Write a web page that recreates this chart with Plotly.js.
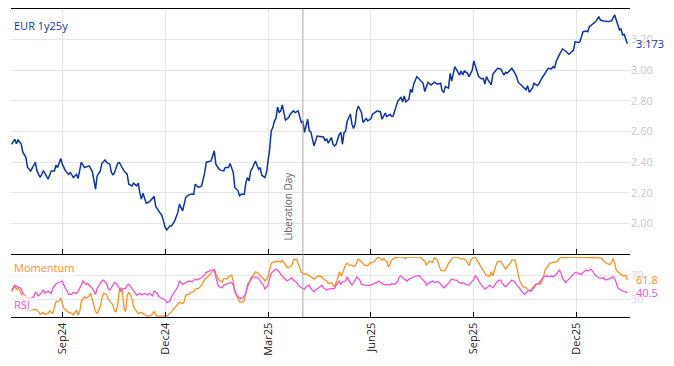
<!DOCTYPE html>
<html>
<head>
<meta charset="utf-8">
<script src="https://cdn.plot.ly/plotly-3.0.1.min.js"></script>
<style>html,body{margin:0;padding:0;background:#fff;}#chart{width:674px;height:366px;}</style>
</head>
<body>
<div id="chart"></div>
<script>
// ---- EUR 1y25y swap rate ----
const rateDates = [
"2024-07-18","2024-07-22","2024-07-23","2024-07-24","2024-07-26","2024-07-29","2024-07-31",
"2024-08-01","2024-08-05","2024-08-08","2024-08-09","2024-08-13","2024-08-15","2024-08-16","2024-08-20","2024-08-22","2024-08-26","2024-08-27","2024-08-28","2024-08-30",
"2024-09-02","2024-09-04","2024-09-06","2024-09-09","2024-09-11","2024-09-13","2024-09-16","2024-09-18","2024-09-20","2024-09-25","2024-09-27","2024-09-30",
"2024-10-01","2024-10-02","2024-10-04","2024-10-07","2024-10-09","2024-10-10","2024-10-14","2024-10-15","2024-10-16","2024-10-17","2024-10-21","2024-10-22","2024-10-24","2024-10-25","2024-10-29","2024-10-30",
"2024-11-01","2024-11-04","2024-11-06","2024-11-07","2024-11-08","2024-11-11","2024-11-12","2024-11-14","2024-11-18","2024-11-21","2024-11-22","2024-11-26","2024-11-28",
"2024-12-02","2024-12-03","2024-12-05","2024-12-06","2024-12-10","2024-12-12","2024-12-13","2024-12-17","2024-12-19","2024-12-20","2024-12-24","2024-12-26","2024-12-27","2024-12-31",
"2025-01-02","2025-01-03","2025-01-06","2025-01-07","2025-01-10","2025-01-13","2025-01-14","2025-01-15","2025-01-17","2025-01-20","2025-01-22","2025-01-23","2025-01-27","2025-01-28","2025-01-30","2025-01-31",
"2025-02-04","2025-02-05","2025-02-06","2025-02-10","2025-02-11","2025-02-12","2025-02-13","2025-02-14","2025-02-17","2025-02-19","2025-02-20","2025-02-21","2025-02-24","2025-02-25","2025-02-27","2025-02-28",
"2025-03-03","2025-03-04","2025-03-05","2025-03-06","2025-03-07","2025-03-10","2025-03-11","2025-03-12","2025-03-13","2025-03-14","2025-03-17","2025-03-18","2025-03-20","2025-03-21","2025-03-25","2025-03-26","2025-03-28","2025-03-31",
"2025-04-01","2025-04-02","2025-04-03","2025-04-07","2025-04-08","2025-04-09","2025-04-10","2025-04-11","2025-04-15","2025-04-17","2025-04-21","2025-04-22","2025-04-23","2025-04-24","2025-04-25","2025-04-28","2025-04-29","2025-04-30",
"2025-05-01","2025-05-05","2025-05-06","2025-05-07","2025-05-08","2025-05-09","2025-05-12","2025-05-14","2025-05-15","2025-05-16","2025-05-19","2025-05-20","2025-05-21","2025-05-23","2025-05-26","2025-05-28","2025-05-29",
"2025-06-02","2025-06-03","2025-06-05","2025-06-06","2025-06-10","2025-06-11","2025-06-13","2025-06-16","2025-06-18","2025-06-19","2025-06-20","2025-06-24","2025-06-25","2025-06-27","2025-06-30",
"2025-07-01","2025-07-02","2025-07-04","2025-07-07","2025-07-08","2025-07-09","2025-07-11","2025-07-15","2025-07-17","2025-07-18","2025-07-22","2025-07-24","2025-07-28","2025-07-30",
"2025-08-01","2025-08-04","2025-08-05","2025-08-06","2025-08-08","2025-08-11","2025-08-12","2025-08-14","2025-08-15","2025-08-19","2025-08-20","2025-08-21","2025-08-22","2025-08-26","2025-08-27","2025-08-29",
"2025-09-01","2025-09-03","2025-09-04","2025-09-08","2025-09-09","2025-09-10","2025-09-11","2025-09-12","2025-09-16","2025-09-17","2025-09-19","2025-09-22","2025-09-24","2025-09-26","2025-09-29","2025-09-30",
"2025-10-02","2025-10-03","2025-10-07","2025-10-08","2025-10-09","2025-10-13","2025-10-14","2025-10-16","2025-10-17","2025-10-20","2025-10-22","2025-10-23","2025-10-27","2025-10-28","2025-10-30",
"2025-11-03","2025-11-04","2025-11-05","2025-11-07","2025-11-10","2025-11-11","2025-11-12","2025-11-14","2025-11-17","2025-11-18","2025-11-20","2025-11-24","2025-11-25","2025-11-27","2025-11-28",
"2025-12-02","2025-12-03","2025-12-04","2025-12-05","2025-12-09","2025-12-10","2025-12-11","2025-12-15","2025-12-16","2025-12-17","2025-12-19","2025-12-22","2025-12-24","2025-12-26","2025-12-29","2025-12-31",
"2026-01-01","2026-01-02","2026-01-05","2026-01-06","2026-01-07","2026-01-08","2026-01-09","2026-01-12","2026-01-13","2026-01-14"
];
const rateValues = [
2.517,2.55,2.52,2.545,2.52,2.467,2.43,
2.367,2.343,2.398,2.343,2.30,2.343,2.328,2.289,2.343,2.343,2.38,2.365,2.424,
2.387,2.343,2.32,2.333,2.30,2.32,2.293,2.40,2.365,2.376,2.337,2.289,
2.224,2.31,2.343,2.393,2.415,2.398,2.387,2.333,2.315,2.333,2.393,2.398,2.365,2.343,2.32,2.256,
2.245,2.263,2.245,2.263,2.198,2.159,2.198,2.132,2.141,2.176,2.111,2.082,2.05,
1.974,1.958,1.984,1.984,2.017,2.072,2.126,2.082,2.17,2.18,2.191,2.191,2.256,2.235,
2.245,2.289,2.333,2.40,2.408,2.44,2.474,2.387,2.354,2.348,2.343,2.365,2.365,2.391,2.333,2.235,
2.213,2.18,2.191,2.191,2.267,2.30,2.278,2.343,2.359,2.408,2.376,2.354,2.365,2.315,2.30,2.333,
2.408,2.485,2.604,2.626,2.669,2.685,2.76,2.724,2.735,2.774,2.724,2.674,2.691,2.713,2.735,2.724,2.735,2.70,
2.659,2.669,2.594,2.68,2.604,2.598,2.55,2.506,2.571,2.567,2.565,2.539,2.554,2.524,2.539,2.561,2.517,2.506,
2.517,2.583,2.594,2.517,2.594,2.604,2.669,2.713,2.648,2.62,2.648,2.735,2.767,2.724,2.659,2.685,2.669,
2.685,2.713,2.724,2.735,2.728,2.68,2.72,2.698,2.713,2.70,2.70,2.778,2.80,2.822,2.793,
2.832,2.793,2.811,2.876,2.855,2.909,2.959,2.935,2.915,2.861,2.922,2.904,2.922,2.909,
2.915,2.865,2.856,2.894,2.883,2.98,2.93,3.024,3.002,2.969,2.995,2.969,2.995,2.98,2.959,3.002,
3.061,3.002,2.959,2.943,2.946,2.909,2.959,2.937,2.904,2.974,3.002,3.013,3.009,2.969,2.987,2.98,
3.002,3.013,2.98,2.959,2.922,2.904,2.894,2.872,2.90,2.856,2.883,2.915,2.90,2.909,2.948,
2.98,2.991,3.013,3.009,3.024,3.013,3.057,3.10,3.122,3.139,3.126,3.104,3.111,3.132,3.187,
3.181,3.187,3.22,3.252,3.256,3.252,3.285,3.30,3.307,3.318,3.35,3.328,3.322,3.318,3.318,3.322,
3.339,3.361,3.328,3.295,3.263,3.27,3.23,3.235,3.198,3.173
];

// ---- Momentum ----
const momDates = [
"2024-07-18","2024-07-22","2024-07-23","2024-07-24","2024-07-26","2024-07-30","2024-07-31",
"2024-08-02","2024-08-07","2024-08-08","2024-08-12","2024-08-13","2024-08-15","2024-08-16","2024-08-20","2024-08-21","2024-08-23","2024-08-26","2024-08-27","2024-08-29","2024-08-30",
"2024-09-02","2024-09-03","2024-09-05","2024-09-06","2024-09-10","2024-09-11","2024-09-13","2024-09-16","2024-09-17","2024-09-18","2024-09-20","2024-09-23","2024-09-25","2024-09-26","2024-09-27",
"2024-10-01","2024-10-02","2024-10-04","2024-10-07","2024-10-08","2024-10-10","2024-10-11","2024-10-14","2024-10-16","2024-10-17","2024-10-18","2024-10-21","2024-10-22","2024-10-23","2024-10-24","2024-10-25","2024-10-28","2024-10-29","2024-10-30",
"2024-11-01","2024-11-04","2024-11-06","2024-11-07","2024-11-11","2024-11-13","2024-11-14","2024-11-15","2024-11-19","2024-11-20","2024-11-21","2024-11-22","2024-11-25","2024-11-27",
"2024-12-02","2024-12-03","2024-12-05","2024-12-06","2024-12-10","2024-12-12","2024-12-13","2024-12-17","2024-12-18","2024-12-19","2024-12-23","2024-12-24","2024-12-26","2024-12-27","2024-12-31",
"2025-01-02","2025-01-03","2025-01-06","2025-01-08","2025-01-10","2025-01-13","2025-01-14","2025-01-15","2025-01-17","2025-01-21","2025-01-22","2025-01-24","2025-01-27","2025-01-29","2025-01-30","2025-01-31",
"2025-02-04","2025-02-05","2025-02-07","2025-02-10","2025-02-11","2025-02-13","2025-02-14","2025-02-18","2025-02-19","2025-02-21","2025-02-24","2025-02-26","2025-02-27",
"2025-03-03","2025-03-04","2025-03-05","2025-03-06","2025-03-10","2025-03-11","2025-03-13","2025-03-14","2025-03-18","2025-03-19","2025-03-21","2025-03-24","2025-03-25","2025-03-27","2025-03-28","2025-03-31",
"2025-04-01","2025-04-03","2025-04-04","2025-04-08","2025-04-09","2025-04-11","2025-04-14","2025-04-16","2025-04-18","2025-04-21","2025-04-23","2025-04-24","2025-04-28","2025-04-29","2025-04-30",
"2025-05-01","2025-05-02","2025-05-05","2025-05-06","2025-05-07","2025-05-08","2025-05-09","2025-05-12","2025-05-13","2025-05-15","2025-05-16","2025-05-19","2025-05-20","2025-05-21","2025-05-22","2025-05-26","2025-05-27","2025-05-29","2025-05-30",
"2025-06-03","2025-06-04","2025-06-06","2025-06-09","2025-06-11","2025-06-12","2025-06-16","2025-06-17","2025-06-18","2025-06-19","2025-06-23","2025-06-25","2025-06-26","2025-06-30",
"2025-07-02","2025-07-03","2025-07-07","2025-07-08","2025-07-10","2025-07-14","2025-07-15","2025-07-16","2025-07-18","2025-07-21","2025-07-23","2025-07-25","2025-07-28","2025-07-30","2025-07-31",
"2025-08-01","2025-08-05","2025-08-06","2025-08-08","2025-08-12","2025-08-13","2025-08-15","2025-08-18","2025-08-20","2025-08-21","2025-08-25","2025-08-27","2025-08-28",
"2025-09-01","2025-09-02","2025-09-03","2025-09-05","2025-09-09","2025-09-10","2025-09-11","2025-09-12","2025-09-15","2025-09-16","2025-09-17","2025-09-19","2025-09-22","2025-09-24","2025-09-25","2025-09-29","2025-09-30",
"2025-10-02","2025-10-03","2025-10-07","2025-10-08","2025-10-09","2025-10-10","2025-10-14","2025-10-16","2025-10-17","2025-10-21","2025-10-22","2025-10-24","2025-10-27","2025-10-29","2025-10-31",
"2025-11-03","2025-11-05","2025-11-06","2025-11-10","2025-11-11","2025-11-13","2025-11-14","2025-11-18","2025-11-20","2025-11-21","2025-11-25","2025-11-27",
"2025-12-01","2025-12-05","2025-12-10","2025-12-12","2025-12-15","2025-12-17","2025-12-19","2025-12-23","2025-12-24","2025-12-26","2025-12-30","2025-12-31",
"2026-01-01","2026-01-02","2026-01-05","2026-01-06","2026-01-08","2026-01-09","2026-01-13","2026-01-14"
];
const momValues = [
42,53,45,50,39,23,14.4,
10,12,13,9,4.4,7.7,4.4,6,10,6,15.5,25.5,26.6,32,
22.7,14.4,10,7.7,6,3.3,11.6,3.3,8.8,26.6,33.8,31,35.5,39.4,28.3,
8.8,6,17,31,39.4,37.7,30,26.6,20,10,9,20,43,48.8,42,14.4,9,36.6,41,
31,17,9,6,7.7,3.3,2.2,1.6,2.2,6,8.8,3.3,1.6,1.6,
1.6,1.6,6,8.8,14.4,20,24.4,22.7,25.5,36.6,37.7,41,42,46.6,47.7,
53.2,57.7,63.2,67,72.7,76.6,80,72.7,61.6,58,64.4,63.2,67,70,58.8,42,
31,25.5,24.4,28.3,42,56,64.4,71,75.5,72.7,68.8,64.4,60,
67,81,89.4,91,92.1,93.2,91,94.9,86.6,82.1,83.8,86.6,94.9,96.6,89.4,80,
74.4,71,72.7,68.8,67,63.2,65.5,68.8,67,63.2,60,56,57.7,53.2,50.5,
57.7,64.4,75.5,68.8,72.7,81,87.7,89.4,86.6,86.6,83.8,85.5,92.1,96.6,94.9,89.4,86.6,85.5,89.4,
91,92.1,98.8,100,94.9,97.7,92.1,83.8,87.7,94.9,98.8,100,100,100,
97.7,100,100,100,100,100,100,97.7,93.2,86.6,93.2,91,98.8,94.9,86.6,
78.3,76.6,78.3,89.4,97.7,100,100,98.8,96.6,97.7,94.9,85.5,94.9,
100,100,94.9,85.5,78.3,72.7,68.8,70,67,75.5,68.8,86.6,92.1,93.2,89.4,80,83.8,
89.4,94.9,94.9,83.8,72.7,60,50.5,48.8,45,43.2,48.8,54.4,56,54.4,67,
78.3,85.5,89.4,91,91,93.2,97.7,100,98.8,100,100,100,
100,100,100,100,100,100,98.8,97.7,93.2,89.4,87.7,91,
97.7,89.4,78.3,75.5,71,68.8,68.8,61.8
];

// ---- RSI ----
const rsiDates = [
"2024-07-18","2024-07-22","2024-07-24","2024-07-26","2024-07-29","2024-07-31",
"2024-08-02","2024-08-07","2024-08-08","2024-08-12","2024-08-13","2024-08-15","2024-08-16","2024-08-20","2024-08-22","2024-08-23","2024-08-27","2024-08-28","2024-08-30",
"2024-09-02","2024-09-03","2024-09-05","2024-09-06","2024-09-10","2024-09-11","2024-09-13","2024-09-16","2024-09-18","2024-09-19","2024-09-23","2024-09-24","2024-09-26","2024-09-27",
"2024-10-01","2024-10-02","2024-10-04","2024-10-07","2024-10-08","2024-10-10","2024-10-11","2024-10-14","2024-10-16","2024-10-17","2024-10-21","2024-10-23","2024-10-24","2024-10-28","2024-10-29","2024-10-30",
"2024-11-01","2024-11-05","2024-11-06","2024-11-08","2024-11-11","2024-11-13","2024-11-15","2024-11-18","2024-11-20","2024-11-21","2024-11-25","2024-11-26","2024-11-28",
"2024-12-02","2024-12-03","2024-12-05","2024-12-06","2024-12-10","2024-12-12","2024-12-13","2024-12-17","2024-12-18","2024-12-20","2024-12-23","2024-12-25","2024-12-27","2024-12-30",
"2025-01-01","2025-01-02","2025-01-06","2025-01-07","2025-01-09","2025-01-10","2025-01-14","2025-01-15","2025-01-16","2025-01-17","2025-01-21","2025-01-22","2025-01-24","2025-01-27","2025-01-29","2025-01-30","2025-01-31",
"2025-02-04","2025-02-06","2025-02-07","2025-02-11","2025-02-12","2025-02-14","2025-02-17","2025-02-19","2025-02-21","2025-02-24","2025-02-26","2025-02-27",
"2025-03-03","2025-03-04","2025-03-05","2025-03-07","2025-03-10","2025-03-12","2025-03-13","2025-03-17","2025-03-19","2025-03-20","2025-03-24","2025-03-25","2025-03-27","2025-03-28",
"2025-04-01","2025-04-03","2025-04-04","2025-04-08","2025-04-09","2025-04-11","2025-04-14","2025-04-16","2025-04-18","2025-04-21","2025-04-23","2025-04-24","2025-04-28","2025-04-30",
"2025-05-01","2025-05-05","2025-05-06","2025-05-07","2025-05-09","2025-05-12","2025-05-13","2025-05-15","2025-05-19","2025-05-20","2025-05-22","2025-05-23","2025-05-27","2025-05-29","2025-05-30",
"2025-06-03","2025-06-04","2025-06-06","2025-06-09","2025-06-11","2025-06-13","2025-06-16","2025-06-18","2025-06-19","2025-06-23","2025-06-25","2025-06-26","2025-06-27",
"2025-07-01","2025-07-03","2025-07-04","2025-07-08","2025-07-10","2025-07-11","2025-07-15","2025-07-16","2025-07-18","2025-07-21","2025-07-23","2025-07-25","2025-07-28","2025-07-30","2025-07-31",
"2025-08-04","2025-08-05","2025-08-07","2025-08-11","2025-08-12","2025-08-14","2025-08-15","2025-08-18","2025-08-20","2025-08-21","2025-08-25","2025-08-27","2025-08-28",
"2025-09-01","2025-09-02","2025-09-03","2025-09-05","2025-09-09","2025-09-10","2025-09-12","2025-09-15","2025-09-17","2025-09-19","2025-09-22","2025-09-24","2025-09-25","2025-09-29","2025-09-30",
"2025-10-02","2025-10-03","2025-10-07","2025-10-08","2025-10-10","2025-10-13","2025-10-15","2025-10-16","2025-10-20","2025-10-21","2025-10-23","2025-10-24","2025-10-28","2025-10-29","2025-10-31",
"2025-11-04","2025-11-05","2025-11-07","2025-11-10","2025-11-12","2025-11-14","2025-11-17","2025-11-18","2025-11-20","2025-11-24","2025-11-25","2025-11-27","2025-11-28",
"2025-12-02","2025-12-04","2025-12-05","2025-12-09","2025-12-10","2025-12-12","2025-12-15","2025-12-17","2025-12-19","2025-12-22","2025-12-24","2025-12-25","2025-12-29","2025-12-31",
"2026-01-01","2026-01-02","2026-01-05","2026-01-06","2026-01-08","2026-01-09","2026-01-13","2026-01-14"
];
const rsiValues = [
45,53,50,47.7,39.4,33.8,
31,33.8,42,35.5,37.7,45,39.4,43.2,39.4,47.7,55,57.2,58.8,
60,53.2,41,37.7,37.7,41,39.4,43.2,53.2,60,54.4,56,50.5,47.7,
37.7,47.7,56,60,61.6,56,47.7,45,53.2,57.7,53.2,42,46.6,47.7,53.2,54.4,
47.7,39.4,36.6,39.4,36.6,39.4,36.6,39.4,35.5,43.2,39.4,33.8,31,
28.3,23.8,26.6,33.8,42,50.5,60,54.4,56,58.8,60,58.8,63.2,61.6,
64.4,65.5,71,74.4,76.6,78.3,78.3,64,56,50.5,48.8,53.2,54.4,56,57.7,53.2,43.2,
33.8,31,32,39.4,54.4,61.6,65.5,67,64.4,60,53.2,46.6,
53.2,64.4,72.7,78.3,80,75.5,71,65.5,60,61.6,65.5,61.6,57.7,53.2,
48.8,46.6,50.5,53.2,47.7,42,45,48.8,53.2,48.8,45,46.6,46.6,47.7,
53.2,60,54.4,58.8,60,67,61.6,53.2,61.6,67,61.6,54.4,53.2,52,52.5,
54.4,56,57.7,60,56,53.2,54.4,53.2,56,54.4,60,67,68.8,
63.2,60,63.2,65.5,67,68.8,68,64,58.8,53.2,57.7,60,57.7,58.8,57.7,
52,48.8,53.2,60,63.2,61.6,61.6,58.8,56,57.7,54.4,53.2,56,
63.2,68.8,65.5,56,48.8,46.6,50.5,53.2,48.8,56,60,61.6,56,50.5,53.2,
58.8,61.6,57.7,53.2,47.7,43.2,37.7,41,45,43.2,48.8,54.4,56,60,67,
68.8,67,68.8,67,71,78.3,74.4,64.4,57.7,63.2,65.5,70,74.4,
72.7,71,74.4,78.3,76.6,80,76.6,68.8,65.5,64.4,65.5,61.6,63.2,65.5,
67,64.4,56,48.8,45,43.2,42,40.5
];

// ---- axis labels / events ----
const tickDates = ["2024-09-02","2024-12-02","2025-03-03","2025-06-02","2025-09-01","2025-12-01"];
const tickLabels = ["Sep24","Dec24","Mar25","Jun25","Sep25","Dec25"];
const rateTicks = [2.0, 2.2, 2.4, 2.6, 2.8, 3.0, 3.2];
const oscTicks = [30, 70];
const eventDate = "2025-04-02";
const eventLabel = "Liberation Day";
const seriesName = "EUR 1y25y";

const BLUE = "#0d34a6", ORANGE = "#ff8f1f", PINK = "#f54fd6";
const FONT = "Open Sans, sans-serif";
const lastRate = rateValues[rateValues.length-1];
const lastMom = momValues[momValues.length-1];
const lastRsi = rsiValues[rsiValues.length-1];

const traces = [
  {x: rateDates, y: rateValues, type: "scatter", mode: "lines", xaxis: "x", yaxis: "y",
   line: {color: BLUE, width: 1.5}, name: seriesName, hoverinfo: "skip"},
  {x: momDates, y: momValues, type: "scatter", mode: "lines", xaxis: "x2", yaxis: "y2",
   line: {color: ORANGE, width: 1.3}, name: "Momentum", hoverinfo: "skip"},
  {x: rsiDates, y: rsiValues, type: "scatter", mode: "lines", xaxis: "x2", yaxis: "y2",
   line: {color: PINK, width: 1.3}, name: "RSI", hoverinfo: "skip"}
];

const xRange = ["2024-07-17 14:00", "2026-01-15 16:00"];
const xBase = {
  type: "date", range: xRange, rangebreaks: [{bounds: ["sat", "mon"]}],
  tickmode: "array", tickvals: tickDates, ticktext: tickLabels,
  showgrid: true, gridcolor: "#e6e6e6", gridwidth: 1,
  showline: true, linecolor: "#000", linewidth: 1.3,
  ticks: "inside", ticklen: 5, tickcolor: "#000", tickwidth: 1,
  zeroline: false, fixedrange: true
};

const layout = {
  width: 674, height: 366,
  margin: {l: 11, r: 44, t: 9, b: 49},
  paper_bgcolor: "#fff", plot_bgcolor: "#fff",
  showlegend: false,
  font: {family: FONT, size: 11, color: "#222"},
  xaxis: Object.assign({}, xBase, {anchor: "y", mirror: true, showticklabels: false}),
  xaxis2: Object.assign({}, xBase, {anchor: "y2", matches: "x", showticklabels: true,
    tickangle: -90, tickfont: {family: FONT, size: 11, color: "#222"}}),
  yaxis: {domain: [0.2043, 1], range: [1.8, 3.4], side: "right", tickmode: "array",
    tickvals: rateTicks, tickformat: ".2f", showgrid: true, gridcolor: "#e6e6e6",
    zeroline: false, showline: false, ticks: "", tickfont: {family: FONT, size: 11, color: "#c8c8c8"},
    fixedrange: true},
  yaxis2: {domain: [0, 0.1946], range: [0, 100], side: "right", tickmode: "array",
    tickvals: oscTicks, showgrid: true, gridcolor: "#e6e6e6",
    zeroline: false, showline: false, ticks: "", tickfont: {family: FONT, size: 11, color: "#d8d8d8"},
    fixedrange: true},
  shapes: [
    {type: "line", xref: "x", yref: "paper", x0: eventDate, x1: eventDate, y0: 0, y1: 1,
     line: {color: "#a8a8a8", width: 1}}
  ],
  annotations: [
    {text: seriesName, xref: "paper", yref: "paper", x: 0, y: 0.948, xanchor: "left", yanchor: "middle",
     xshift: 1, showarrow: false, font: {family: FONT, size: 11, color: BLUE}},
    {text: "Momentum", xref: "paper", yref: "paper", x: 0, y: 0.161, xanchor: "left", yanchor: "middle",
     xshift: 1, showarrow: false, bgcolor: "rgba(255,255,255,0.7)", font: {family: FONT, size: 11, color: ORANGE}},
    {text: "RSI", xref: "paper", yref: "paper", x: 0, y: 0.040, xanchor: "left", yanchor: "middle",
     xshift: 1, showarrow: false, bgcolor: "rgba(255,255,255,0.7)", font: {family: FONT, size: 11, color: PINK}},
    {text: lastRate.toFixed(3), xref: "paper", yref: "y", x: 1, y: lastRate, xanchor: "left", yanchor: "middle",
     xshift: 4, showarrow: false, font: {family: FONT, size: 11, color: BLUE}},
    {text: lastMom.toFixed(1), xref: "paper", yref: "y2", x: 1, y: lastMom, xanchor: "left", yanchor: "middle",
     xshift: 4, showarrow: false, font: {family: FONT, size: 11, color: ORANGE}},
    {text: lastRsi.toFixed(1), xref: "paper", yref: "y2", x: 1, y: lastRsi, xanchor: "left", yanchor: "middle",
     xshift: 4, showarrow: false, font: {family: FONT, size: 11, color: PINK}},
    {text: eventLabel, xref: "x", yref: "y", x: eventDate, y: 1.878, xanchor: "right", yanchor: "bottom",
     xshift: -6, textangle: -90, showarrow: false, font: {family: FONT, size: 10, color: "#666"}}
  ]
};

Plotly.newPlot("chart", traces, layout, {staticPlot: true, displayModeBar: false});
</script>
</body>
</html>
